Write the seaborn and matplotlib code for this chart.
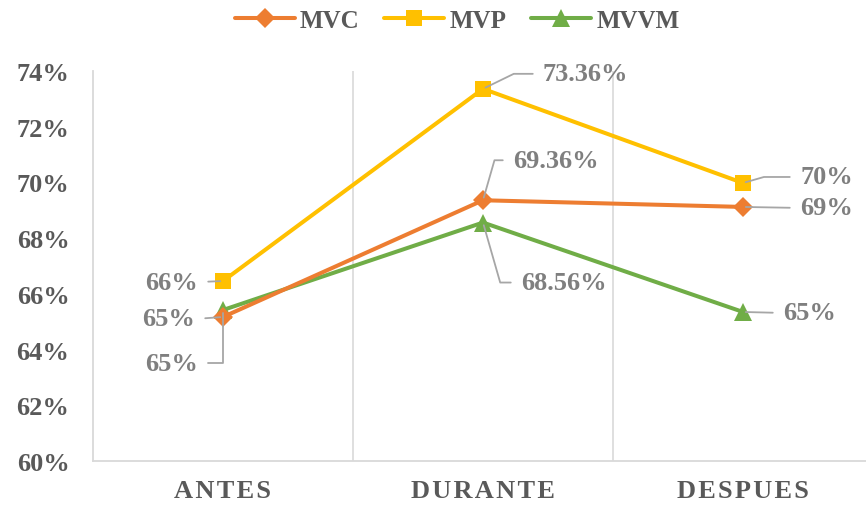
import pandas as pd
import matplotlib
matplotlib.use('Agg')
import matplotlib.pyplot as plt
import seaborn as sns
from matplotlib.ticker import PercentFormatter, FixedLocator

# data
phases = ['ANTES', 'DURANTE', 'DESPUES']
mvc = [65.17, 69.36, 69.12]
mvp = [66.46, 73.36, 69.98]
mvvm = [65.42, 68.56, 65.35]
mvc_labels = ['65%', '69.36%', '69%']
mvp_labels = ['66%', '73.36%', '70%']
mvvm_labels = ['65%', '68.56%', '65%']

sns.set_style('white')
plt.rcParams['font.family'] = ['Liberation Serif', 'DejaVu Serif']
plt.rcParams['font.weight'] = 'bold'

colors = {'MVC': '#ED7D31', 'MVP': '#FFC000', 'MVVM': '#70AD47'}
markers = {'MVC': 'D', 'MVP': 's', 'MVVM': '^'}
msizes = {'MVC': 10, 'MVP': 12, 'MVVM': 13}

df = pd.DataFrame({
    'phase': phases * 3,
    'value': mvc + mvp + mvvm,
    'series': ['MVC'] * 3 + ['MVP'] * 3 + ['MVVM'] * 3,
})

fig = plt.figure(figsize=(8.66, 5.06), dpi=100)
ax = fig.add_axes([93 / 866, 1 - 462 / 506, 780 / 866, 390 / 506])

for name in ['MVVM', 'MVC', 'MVP']:
    sub = df[df['series'] == name]
    sns.lineplot(data=sub, x='phase', y='value', ax=ax, color=colors[name],
                 marker=markers[name], markersize=msizes[name], markeredgewidth=0,
                 linewidth=2.9, label=name, sort=False)

ax.set_xlim(-0.5, 2.5)
ax.set_ylim(60, 74)
ax.set_yticks(range(60, 75, 2))
ax.yaxis.set_major_formatter(PercentFormatter(decimals=0))
ax.set_xticks(range(3))
ax.set_xticklabels(['\u200a'.join(p) for p in phases])
ax.xaxis.set_minor_locator(FixedLocator([0.5, 1.5]))
ax.grid(False)
ax.grid(True, which='minor', axis='x', color='#d9d9d9', lw=1.2)
ax.tick_params(axis='both', which='both', length=0, labelsize=19, labelcolor='#595959')
ax.tick_params(axis='y', pad=17)
ax.tick_params(axis='x', pad=13)
for lab in ax.get_xticklabels() + ax.get_yticklabels():
    lab.set_fontweight('bold')
for s in ['top', 'right']:
    ax.spines[s].set_visible(False)
for s in ['left', 'bottom']:
    ax.spines[s].set_color('#d9d9d9')
    ax.spines[s].set_linewidth(1.3)
ax.set_xlabel('')
ax.set_ylabel('')
ax.get_legend().remove()

# label layout: (dx, dy) in pixels, alignment, connection
layout = {
    'MVC': [(-28, -2, 'right', 'arc3'), (30, 40, 'left', 'angle,angleA=0,angleB=74,rad=0'),
            (57, -1, 'left', 'arc3')],
    'MVP': [(-25, -1, 'right', 'arc3'), (60, 15, 'left', 'angle,angleA=0,angleB=26,rad=0'),
            (57, 6, 'left', 'angle,angleA=0,angleB=16,rad=0')],
    'MVVM': [(-25, -53, 'right', 'angle,angleA=0,angleB=90,rad=0'),
             (38, -60, 'left', 'angle,angleA=0,angleB=-74,rad=0'),
             (40, -1, 'left', 'arc3')],
}
series_vals = {'MVC': (mvc, mvc_labels), 'MVP': (mvp, mvp_labels), 'MVVM': (mvvm, mvvm_labels)}
for name, (vals, labs) in series_vals.items():
    for i, (v, t) in enumerate(zip(vals, labs)):
        dx, dy, ha, conn = layout[name][i]
        ax.annotate(t, xy=(i, v), xytext=(dx, dy), textcoords='offset pixels',
                    ha=ha, va='center', fontsize=19, fontweight='bold', color='#7f7f7f',
                    annotation_clip=False,
                    arrowprops=dict(arrowstyle='-', color='#a6a6a6', lw=1.3,
                                    shrinkA=5, shrinkB=2,
                                    relpos=(0, 0.5) if ha == 'left' else (1, 0.5),
                                    connectionstyle=conn))

handles, labels = ax.get_legend_handles_labels()
order = [labels.index(n) for n in ['MVC', 'MVP', 'MVVM']]
fig.legend([handles[k] for k in order], ['MVC', 'MVP', 'MVVM'], loc='center',
           bbox_to_anchor=(0.528, 0.958), ncol=3, frameon=False, handlelength=2.4,
           handletextpad=0.2, columnspacing=1.0,
           prop={'size': 18, 'weight': 'bold'}, labelcolor='#595959')

fig.savefig('out.png', dpi=100)
